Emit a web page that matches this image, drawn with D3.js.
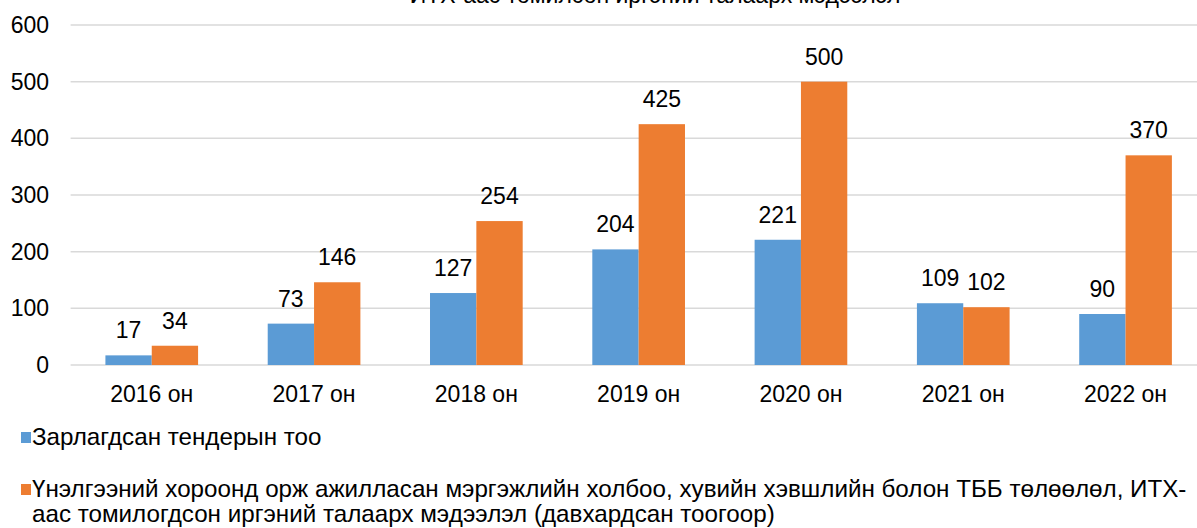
<!DOCTYPE html>
<html>
<head>
<meta charset="utf-8">
<script src="https://cdn.jsdelivr.net/npm/d3@7"></script>
<style>
  body { margin: 0; background: #fff; overflow: hidden; }
  svg { font-family: "Liberation Sans", Arial, sans-serif; display: block; }
</style>
</head>
<body>
<div class="container"></div>
<script>
const years = ["2016 он", "2017 он", "2018 он", "2019 он", "2020 он", "2021 он", "2022 он"];
const tenders = [17, 73, 127, 204, 221, 109, 90];
const members = [34, 146, 254, 425, 500, 102, 370];
const seriesNames = [
  "Зарлагдсан тендерын тоо",
  "Үнэлгээний хороонд орж ажилласан мэргэжлийн холбоо, хувийн хэвшлийн болон ТББ төлөөлөл, ИТХ-",
];
const seriesName2b = "аас томилогдсон иргэний талаарх мэдээлэл (давхардсан тоогоор)";
const yTicks = [0, 100, 200, 300, 400, 500, 600];
const colors = ["#5B9BD5", "#ED7D31"];

const w = 1197, h = 528;
const plotLeft = 70.6, plotRight = 1206.7;
const plotTop = 25, plotBottom = 365;

const svg = d3.select(".container")
  .append("svg")
  .attr("width", w)
  .attr("height", h);

const x0 = d3.scaleBand()
  .domain(years)
  .range([plotLeft, plotRight]);

const x = d3.scaleBand()
  .domain(years)
  .range([plotLeft, plotRight])
  .paddingInner(0.429)
  .paddingOuter(0.2145);

const y = d3.scaleLinear()
  .domain([0, 600])
  .range([plotBottom, plotTop]);

// title, cut off at the top like the source
svg.append("text")
  .attr("x", 655)
  .attr("y", 3)
  .attr("text-anchor", "middle")
  .attr("font-size", 23)
  .attr("fill", "#000")
  .text("ИТХ-аас томилсон иргэний талаарх мэдээлэл");

// gridlines
svg.append("g")
  .selectAll("line")
  .data(yTicks)
  .join("line")
  .attr("x1", plotLeft)
  .attr("x2", w)
  .attr("y1", d => y(d))
  .attr("y2", d => y(d))
  .attr("stroke", "#d9d9d9")
  .attr("stroke-width", 1.5);

// y axis labels
svg.append("g")
  .selectAll("text")
  .data(yTicks)
  .join("text")
  .attr("x", 49)
  .attr("y", d => y(d))
  .attr("dy", "0.35em")
  .attr("text-anchor", "end")
  .attr("font-size", 23)
  .text(d => d);

const data = years.map((yr, i) => ({ yr, vals: [tenders[i], members[i]] }));
const sub = d3.scaleBand().domain([0, 1]).range([0, x.bandwidth()]);

const groups = svg.append("g")
  .selectAll("g")
  .data(data)
  .join("g")
  .attr("transform", d => `translate(${x(d.yr)},0)`);

groups.selectAll("rect")
  .data(d => d.vals)
  .join("rect")
  .attr("x", (d, i) => sub(i))
  .attr("width", sub.bandwidth())
  .attr("y", d => y(d))
  .attr("height", d => y(0) - y(d))
  .attr("fill", (d, i) => colors[i]);

groups.selectAll("text")
  .data(d => d.vals)
  .join("text")
  .attr("x", (d, i) => sub(i) + sub.bandwidth() / 2)
  .attr("y", d => y(d) - 17)
  .attr("text-anchor", "middle")
  .attr("font-size", 23)
  .text(d => d);

// x labels
svg.append("g")
  .selectAll("text")
  .data(years)
  .join("text")
  .attr("x", d => x0(d) + x0.bandwidth() / 2)
  .attr("y", y(0) + 37)
  .attr("text-anchor", "middle")
  .attr("font-size", 23)
  .text(d => d);

// legend
const legend = svg.append("g");
const legY = [445, 497];
legend.selectAll("rect")
  .data(seriesNames)
  .join("rect")
  .attr("x", 21)
  .attr("y", (d, i) => legY[i] - 13)
  .attr("width", 10)
  .attr("height", 11)
  .attr("fill", (d, i) => colors[i]);

legend.selectAll("text.l")
  .data(seriesNames)
  .join("text")
  .attr("class", "l")
  .attr("x", 32)
  .attr("y", (d, i) => legY[i])
  .attr("font-size", 24.2)
  .text(d => d);

legend.append("text")
  .attr("x", 32)
  .attr("y", 522)
  .attr("font-size", 24.2)
  .text(seriesName2b);
</script>
</body>
</html>
